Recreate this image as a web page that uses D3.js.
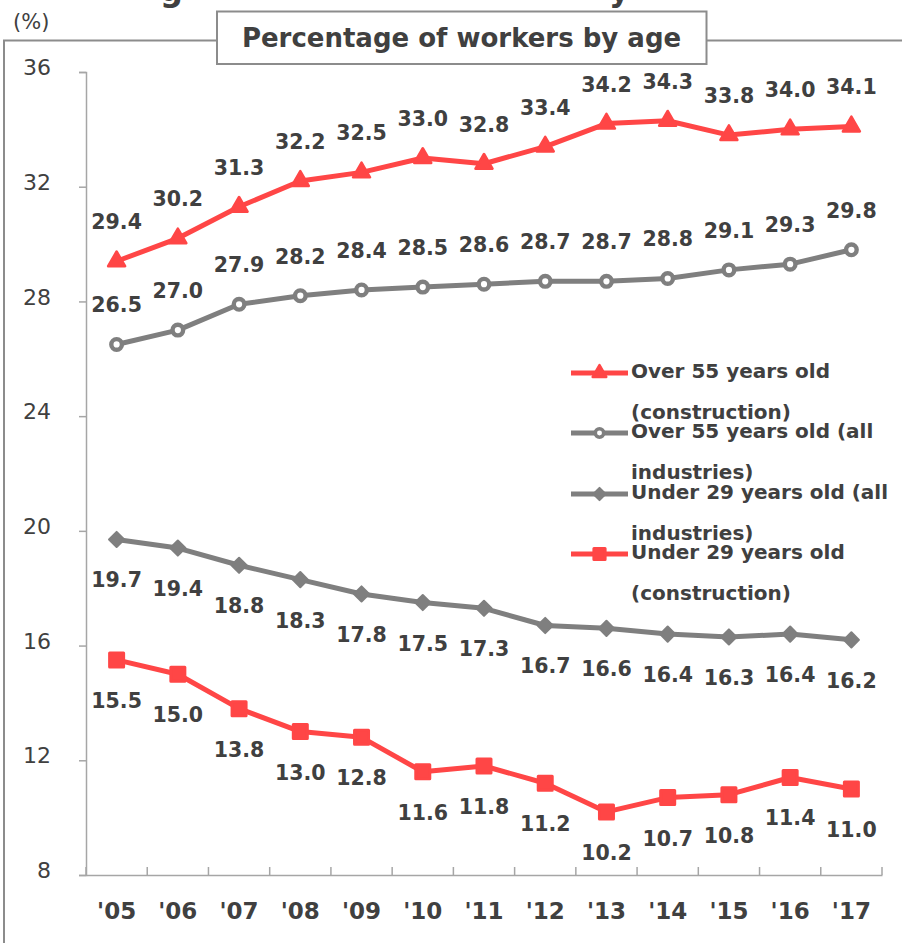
<!DOCTYPE html>
<html>
<head>
<meta charset="utf-8">
<script src="https://cdn.jsdelivr.net/npm/d3@7"></script>
<style>
  html, body { margin: 0; padding: 0; background: #fff; }
  svg { display: block; }
  text { fill: #404040; }
</style>
</head>
<body>
<script>
// Fiscal years on the category axis
const years = ["'05", "'06", "'07", "'08", "'09", "'10", "'11", "'12", "'13", "'14", "'15", "'16", "'17"];

// Share of workers (%) in each group
const over55Construction  = [29.4, 30.2, 31.3, 32.2, 32.5, 33.0, 32.8, 33.4, 34.2, 34.3, 33.8, 34.0, 34.1];
const over55All           = [26.5, 27.0, 27.9, 28.2, 28.4, 28.5, 28.6, 28.7, 28.7, 28.8, 29.1, 29.3, 29.8];
const under29All          = [19.7, 19.4, 18.8, 18.3, 17.8, 17.5, 17.3, 16.7, 16.6, 16.4, 16.3, 16.4, 16.2];
const under29Construction = [15.5, 15.0, 13.8, 13.0, 12.8, 11.6, 11.8, 11.2, 10.2, 10.7, 10.8, 11.4, 11.0];

const yTicks = [8, 12, 16, 20, 24, 28, 32, 36];
const yDomain = [8, 36];

const seriesNames = [
  ["Over 55 years old", "(construction)"],
  ["Over 55 years old (all", "industries)"],
  ["Under 29 years old (all", "industries)"],
  ["Under 29 years old", "(construction)"]
];

const chartTitle = "Percentage of workers by age";
const unitLabel = "(%)";

const RED = "#ff4646";
const GRAY = "#7f7f7f";
const TEXT = "#3f3f3f";

const series = [
  { values: over55Construction,  name: seriesNames[0], color: RED,  marker: "triangle", label: "above" },
  { values: over55All,           name: seriesNames[1], color: GRAY, marker: "circle",   label: "above" },
  { values: under29All,          name: seriesNames[2], color: GRAY, marker: "diamond",  label: "below" },
  { values: under29Construction, name: seriesNames[3], color: RED,  marker: "square",   label: "below" }
];

const W = 902, H = 943;
const plot = { left: 86, right: 882, top: 72, bottom: 875 };

const svg = d3.select("body").append("svg")
  .attr("width", W).attr("height", H)
  .attr("font-family", "'DejaVu Sans', Verdana, sans-serif");

// Descenders of the heading line that runs above the panel
svg.append("text").attr("x", 160).attr("y", 1)
  .attr("font-size", 32).attr("font-weight", "bold").attr("fill", TEXT).text("g");
svg.append("text").attr("x", 609).attr("y", 1)
  .attr("font-size", 32).attr("font-weight", "bold").attr("fill", TEXT).text("y");

// Unit label
svg.append("text").attr("x", 13).attr("y", 29)
  .attr("font-size", 21).attr("fill", TEXT).text(unitLabel);

// Panel frame (open to the right and bottom)
svg.append("path")
  .attr("d", `M4,${H + 5} V40.5 H${W + 5}`)
  .attr("fill", "none").attr("stroke", "#8c8c8c").attr("stroke-width", 2);

// Title box sitting on the frame
svg.append("rect")
  .attr("x", 217).attr("y", 11.5).attr("width", 489.5).attr("height", 52.5)
  .attr("fill", "#fff").attr("stroke", "#8c8c8c").attr("stroke-width", 2);
svg.append("text")
  .attr("x", 461.5).attr("y", 47)
  .attr("text-anchor", "middle")
  .attr("font-size", 26).attr("font-weight", "bold")
  .attr("fill", TEXT).text(chartTitle);

// Scales
const x = d3.scaleBand().domain(years).range([plot.left, plot.right]);
const y = d3.scaleLinear().domain(yDomain).range([plot.bottom, plot.top]);
const cx = d => x(d) + x.bandwidth() / 2;

// Y axis
const yAxis = svg.append("g")
  .attr("transform", `translate(${plot.left},0)`)
  .call(d3.axisLeft(y).tickValues(yTicks).tickSize(7).tickPadding(0).tickFormat(d3.format("d")));
yAxis.select(".domain").attr("stroke", "#a6a6a6").attr("stroke-width", 1.5);
yAxis.selectAll(".tick line").attr("stroke", "#a6a6a6").attr("stroke-width", 1.5);
yAxis.selectAll(".tick text")
  .attr("x", -35).attr("dy", "0.12em")
  .attr("font-size", 22).attr("font-family", "'DejaVu Sans', Verdana, sans-serif")
  .attr("fill", TEXT);

// X axis: labels at category centres, tick marks at category boundaries
const xAxis = svg.append("g")
  .attr("transform", `translate(0,${plot.bottom})`)
  .call(d3.axisBottom(x).tickSize(0).tickPadding(28));
xAxis.select(".domain").attr("stroke", "#a6a6a6").attr("stroke-width", 1.5);
xAxis.selectAll(".tick text")
  .attr("font-size", 23).attr("font-weight", "bold")
  .attr("font-family", "'DejaVu Sans', Verdana, sans-serif")
  .attr("fill", TEXT);
const boundaries = years.map(d => x(d)).concat([x(years[years.length - 1]) + x.step()]);
xAxis.selectAll(".bound")
  .data(boundaries)
  .join("line")
  .attr("class", "bound")
  .attr("x1", d => d).attr("x2", d => d)
  .attr("y1", 0).attr("y2", -8)
  .attr("stroke", "#a6a6a6").attr("stroke-width", 1.5);

// Marker drawing shared by the plot and the legend
function drawMarker(g, type, color, k) {
  if (type === "triangle") {
    g.append("path")
      .attr("d", d3.symbol().type(d3.symbolTriangle).size(125 * k * k)())
      .attr("fill", color).attr("stroke", color)
      .attr("stroke-width", 2.5).attr("stroke-linejoin", "round");
  } else if (type === "circle") {
    g.append("circle").attr("r", 5.3 * k)
      .attr("fill", "#fff").attr("stroke", color).attr("stroke-width", 4.4 * k);
  } else if (type === "diamond") {
    g.append("path")
      .attr("d", d3.symbol().type(d3.symbolSquare).size(115 * k * k)())
      .attr("transform", "rotate(45)")
      .attr("fill", color).attr("stroke", color)
      .attr("stroke-width", 2).attr("stroke-linejoin", "round");
  } else if (type === "square") {
    g.append("path")
      .attr("d", d3.symbol().type(d3.symbolSquare).size(196 * k * k)())
      .attr("fill", color).attr("stroke", color)
      .attr("stroke-width", 3).attr("stroke-linejoin", "round");
  }
}

const line = d3.line().x((d, i) => cx(years[i])).y(d => y(d));

series.forEach(s => {
  const g = svg.append("g");
  g.append("path")
    .attr("d", line(s.values))
    .attr("fill", "none").attr("stroke", s.color)
    .attr("stroke-width", 5).attr("stroke-linejoin", "round").attr("stroke-linecap", "round");
  s.values.forEach((v, i) => {
    const m = g.append("g").attr("transform", `translate(${cx(years[i])},${y(v)})`);
    drawMarker(m, s.marker, s.color, 1);
  });
  g.selectAll("text.val")
    .data(s.values)
    .join("text")
    .attr("class", "val")
    .attr("x", (d, i) => cx(years[i]))
    .attr("y", d => s.label === "above" ? y(d) - 32 : y(d) + 48)
    .attr("text-anchor", "middle")
    .attr("font-size", 20.5).attr("font-weight", "bold")
    .attr("fill", TEXT)
    .text(d => d.toFixed(1));
});

// Legend
const legend = { x1: 571, x2: 628, textX: 631, rows: [373, 433, 494, 554], lineGap: 41, baseShift: 5 };
series.forEach((s, i) => {
  const ly = legend.rows[i];
  const g = svg.append("g");
  g.append("line")
    .attr("x1", legend.x1).attr("x2", legend.x2)
    .attr("y1", ly).attr("y2", ly)
    .attr("stroke", s.color).attr("stroke-width", 5);
  const m = g.append("g").attr("transform", `translate(${(legend.x1 + legend.x2) / 2},${ly})`);
  drawMarker(m, s.marker, s.color, 0.8);
  s.name.forEach((t, j) => {
    g.append("text")
      .attr("x", legend.textX)
      .attr("y", ly + legend.baseShift + j * legend.lineGap)
      .attr("font-size", 20).attr("font-weight", "bold")
      .attr("fill", TEXT).text(t);
  });
});
</script>
</body>
</html>
